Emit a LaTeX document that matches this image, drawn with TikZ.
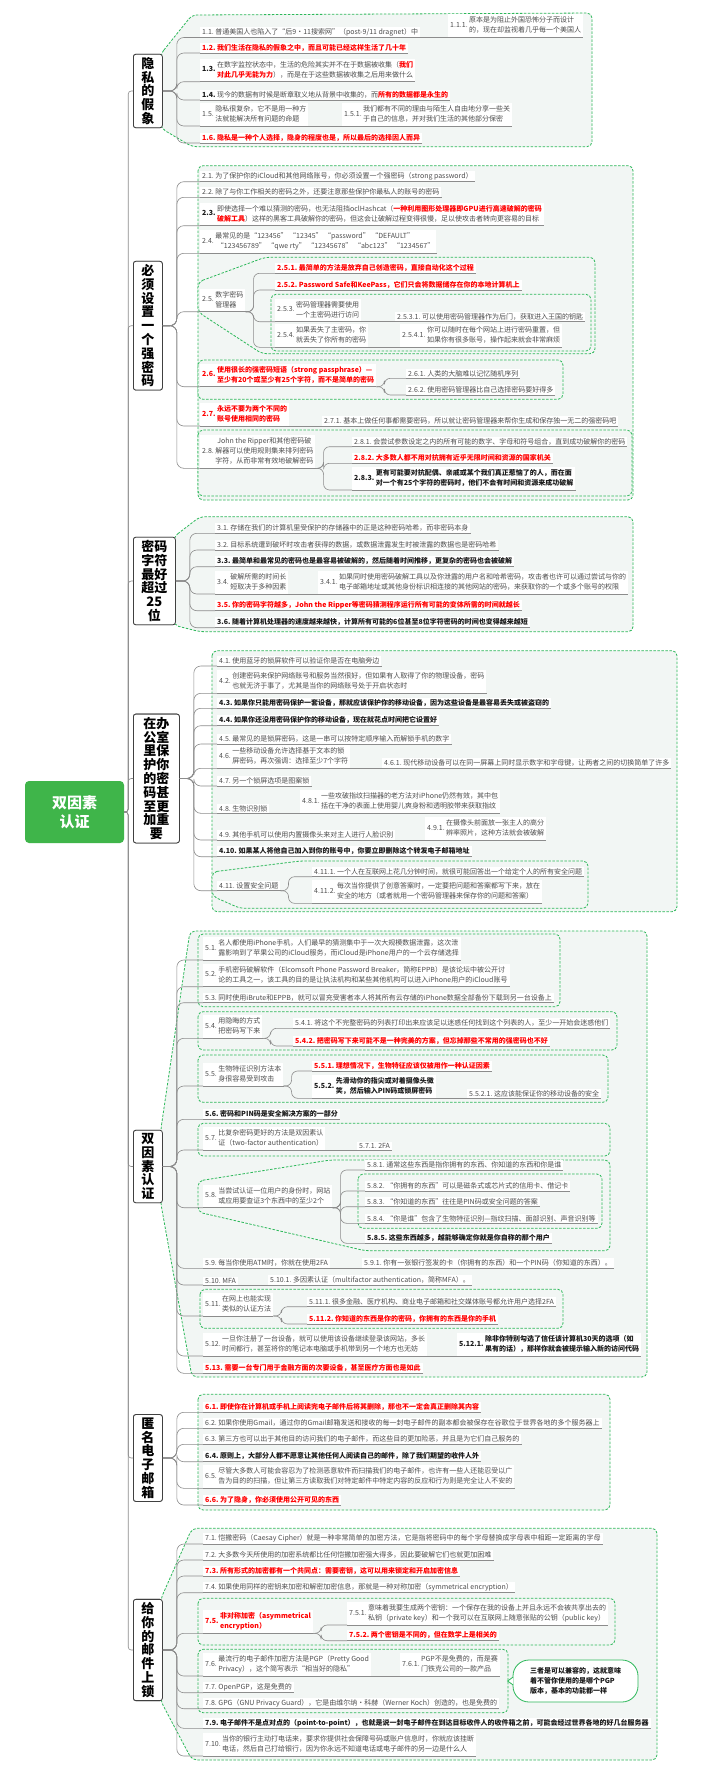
\documentclass[tikz,border=0pt]{standalone}
\usepackage{fontspec}
\setmainfont{Noto Sans CJK SC}
\usetikzlibrary{calc}
\definecolor{tx}{HTML}{4D4D4D}
\definecolor{rd}{HTML}{FF0000}
\definecolor{bk}{HTML}{1A1A1A}
\definecolor{ulc}{HTML}{8C8C8C}
\definecolor{cnc}{HTML}{8C8C8C}
\definecolor{bdc}{HTML}{2DB85A}
\definecolor{bgc}{HTML}{F2F6F4}
\definecolor{rootc}{HTML}{3FB54A}
\newcommand\itfont{\fontsize{7}{10}\selectfont}
\newcommand\R[1]{{\bfseries\color{rd}#1}}
\newcommand\B[1]{{\bfseries\color{bk}#1}}
\newcommand\ml[2]{\begin{tabular}{@{}l@{\hspace{1.5pt}}l@{}}#1&\begin{tabular}{@{}l@{}}#2\end{tabular}\end{tabular}}
\tikzset{
 it/.style={anchor=south west, inner xsep=2pt, inner ysep=1.5pt, fill=white, text=tx, font=\itfont},
 rit/.style={it, text=rd, font=\itfont\bfseries},
 bit/.style={it, text=bk, font=\itfont\bfseries},
 ul/.style={draw=ulc, line width=0.6pt},
 cn/.style={draw=cnc, line width=0.6pt, rounded corners=7pt},
 bd/.style={draw=bdc, line width=0.8pt, dash pattern=on 2.5pt off 1.5pt, fill=bgc, rounded corners=5pt},
 secbox/.style={draw=black!75, fill=white, rounded corners=2.5pt, line width=0.8pt, font=\fontsize{13}{13.8}\selectfont\bfseries, align=center, inner xsep=3pt, inner ysep=3pt, anchor=west, minimum width=29pt},
 rootbox/.style={fill=rootc, text=white, rounded corners=4pt, font=\fontsize{15}{19}\selectfont\bfseries, minimum width=99pt, minimum height=62pt, align=center},
 callout/.style={draw=bdc, line width=0.8pt, fill=white, rounded corners=16pt, font=\itfont\bfseries, text=bk, align=left, minimum width=125pt, minimum height=42pt}
}
\begin{document}
\begin{tikzpicture}[x=1pt,y=-1pt]
\useasboundingbox (0,0) rectangle (720,1773);
\fill[white] (0,0) rectangle (720,1773);
% ---------- root and sections (placed first so boundaries can use them) ----------
\path
 node[secbox] (s1) at (133,91) {隐\\私\\的\\假\\象}
 node[secbox] (s2) at (133,325.7) {必\\须\\设\\置\\一\\个\\强\\密\\码}
 node[secbox, minimum width=42pt] (s3) at (133,581) {密码\\字符\\最好\\超过\\25\\位}
 node[secbox, minimum width=46pt] (s4) at (133,778.5) {在办\\公室\\里保\\护你\\的密\\码甚\\至更\\加重\\要}
 node[secbox] (s5) at (133,1166.5) {双\\因\\素\\认\\证}
 node[secbox] (s6) at (133,1458) {匿\\名\\电\\子\\邮\\箱}
 node[secbox] (s7) at (133,1650) {给\\你\\的\\邮\\件\\上\\锁};
% ---------- boundaries ----------
\draw[bd] ($(s1.north east)+(-2,0)$) -- (192,15) -- (592,13) -- (592,146.7) -- (192,146.7) -- ($(s1.south east)+(-2,0)$) -- cycle;
\draw[bd] (198,165.7) rectangle (633,500);
\draw[bd] (198,282) -- (265,257.3) -- (595,257.3) -- (595,353.7) -- (262,353.7) -- (198,312) -- cycle;
\draw[bd] (271,294.3) rectangle (591,351);
\draw[bd] (198,360) rectangle (563,399.3);
\draw[bd] (198,430) rectangle (632,496);
\draw[bd] ($(s3.north east)+(-2,0)$) -- (200,516.7) -- (633,516.7) -- (633,631.7) -- (200,631.7) -- ($(s3.south east)+(-2,0)$) -- cycle;
\draw[bd] (212,650.7) rectangle (677,911.7);
\draw[bd] (212,872) -- (300,861) -- (588,861) -- (588,908.3) -- (240,908.3) -- (212,896) -- cycle;
\draw[bd] ($(s5.north east)+(-2,0)$) -- (190,931) -- (647,931) -- (647,1377) -- (192,1377) -- ($(s5.south east)+(-2,0)$) -- cycle;
\draw[bd] (198,934) rectangle (560,1006.7);
\draw[bd] (198,1011.7) rectangle (617,1050);
\draw[bd] (198,1055) rectangle (608,1102.3);
\draw[bd] (198,1123.3) rectangle (610,1156);
\draw[bd] (198,1181) -- (330,1160) -- (610,1160) -- (610,1250.7) -- (365,1250.7) -- (198,1212) -- cycle;
\draw[bd] (358,1174) rectangle (602,1228.3);
\draw[bd] (200,1289.3) rectangle (563,1328.3);
\draw[bd] (198,1394.3) rectangle (610,1510);
\draw[bd] ($(s7.north east)+(-2,0)$) -- (192,1528.3) -- (657,1528.3) -- (657,1760) -- (192,1760) -- ($(s7.south east)+(-2,0)$) -- cycle;
\draw[bd] (198,1598.3) rectangle (615,1645);
\draw[bd] (198,1649.3) rectangle (508,1712.7);
% redraw section boxes on top of boundaries
\path
 node[secbox] at (s1.west) {隐\\私\\的\\假\\象}
 node[secbox] at (s2.west) {必\\须\\设\\置\\一\\个\\强\\密\\码}
 node[secbox, minimum width=42pt] at (s3.west) {密码\\字符\\最好\\超过\\25\\位}
 node[secbox, minimum width=46pt] at (s4.west) {在办\\公室\\里保\\护你\\的密\\码甚\\至更\\加重\\要}
 node[secbox] at (s5.west) {双\\因\\素\\认\\证}
 node[secbox] at (s6.west) {匿\\名\\电\\子\\邮\\箱}
 node[secbox] at (s7.west) {给\\你\\的\\邮\\件\\上\\锁};
\node[rootbox] (root) at (74.5,812) {双因素\\认证};
% ---------- section 1 ----------
\node[it] (a11) at (200,37.5) {1.1.\ 普通美国人也陷入了“后9·11搜索网”（post-9/11 dragnet）中};
\node[it] (a111) at (448,37.5) {\ml{1.1.1.}{原本是为阻止外国恐怖分子而设计\\的，现在却监视着几乎每一个美国人}};
\node[rit] (a12) at (200,53) {1.2.\ 我们生活在隐私的假象之中，而且可能已经这样生活了几十年};
\node[it] (a13) at (200,81.7) {\ml{\B{1.3.}}{在数字监控状态中，生活的危险其实并不在于数据被收集（\R{我们}\\\R{对此几乎无能为力}），而是在于这些数据被收集之后用来做什么}};
\node[it] (a14) at (200,100) {\B{1.4.}\ 现今的数据有时候是断章取义地从背景中收集的，而\R{所有的数据都是永生的}};
\node[it] (a15) at (200,126) {\ml{1.5.}{隐私很复杂，它不是用一种方\\法就能解决所有问题的命题}};
\node[it] (a151) at (342,126) {\ml{1.5.1.}{我们都有不同的理由与陌生人自由地分享一些关\\于自己的信息，并对我们生活的其他部分保密}};
\node[rit] (a16) at (200,143) {1.6.\ 隐私是一种个人选择，隐身的程度也是，所以最后的选择因人而异};
% ---------- section 2 ----------
\node[it] (b21) at (200,181.7) {2.1.\ 为了保护你的iCloud和其他网络账号，你必须设置一个强密码（strong password）};
\node[it] (b22) at (200,197.3) {2.2.\ 除了与你工作相关的密码之外，还要注意那些保护你最私人的账号的密码};
\node[it] (b23) at (200,225.7) {\ml{\B{2.3.}}{即使选择一个难以猜测的密码，也无法阻挡oclHashcat（\R{一种利用图形处理器即GPU进行高速破解的密码}\\\R{破解工具}）这样的黑客工具破解你的密码，但这会让破解过程变得很慢，足以使攻击者转向更容易的目标}};
\node[it] (b24) at (200,253.3) {\ml{2.4.}{最常见的是“123456”\ “12345”\ “password”\ “DEFAULT”\\\ “123456789”\ “qwe rty”\ “12345678”\ “abc123”\ “1234567”}};
\node[it] (b25) at (200,311.7) {\ml{2.5.}{数字密码\\管理器}};
\node[rit] (b251) at (275,273.3) {2.5.1.\ 最简单的方法是放弃自己创造密码，直接自动化这个过程};
\node[rit] (b252) at (275,290) {2.5.2.\ Password Safe和KeePass，它们只会将数据储存在你的本地计算机上};
\node[it] (b253) at (275,321.7) {\ml{2.5.3.}{密码管理器需要使用\\一个主密码进行访问}};
\node[it] (b2531) at (395,321.7) {2.5.3.1.\ 可以使用密码管理器作为后门，获取进入王国的钥匙};
\node[it] (b254) at (275,347.3) {\ml{2.5.4.}{如果丢失了主密码，你\\就丢失了你所有的密码}};
\node[it] (b2541) at (400,347.3) {\ml{2.5.4.1.}{你可以随时在每个网站上进行密码重置，但\\如果你有很多账号，操作起来就会非常麻烦}};
\node[rit] (b26) at (200,386.7) {\ml{2.6.}{使用很长的强密码短语（strong passphrase）—\\至少有20个或至少有25个字符，而不是简单的密码}};
\node[it] (b261) at (406,378.3) {2.6.1.\ 人类的大脑难以记忆随机序列};
\node[it] (b262) at (406,395) {2.6.2.\ 使用密码管理器比自己选择密码要好得多};
\node[rit] (b27) at (200,426) {\ml{2.7.}{永远不要为两个不同的\\账号使用相同的密码}};
\node[it] (b271) at (322,426) {2.7.1.\ 基本上做任何事都需要密码，所以就让密码管理器来帮你生成和保存独一无二的强密码吧};
\node[it] (b28) at (200,468.3) {\begin{tabular}{@{}l@{\hspace{1.5pt}}c@{}}&John the Ripper和其他密码破\\2.8.&解器可以使用规则集来排列密码\\&字符，从而非常有效地破解密码\end{tabular}};
\node[it] (b281) at (352,446.7) {2.8.1.\ 会尝试参数设定之内的所有可能的数字、字母和符号组合，直到成功破解你的密码};
\node[rit] (b282) at (352,463.3) {2.8.2.\ 大多数人都不用对抗拥有近乎无限时间和资源的国家机关};
\node[bit] (b283) at (352,490) {\ml{2.8.3.}{更有可能要对抗配偶、亲戚或某个我们真正惹恼了的人，而在面\\对一个有25个字符的密码时，他们不会有时间和资源来成功破解}};
% ---------- section 3 ----------
\node[it] (c31) at (215,533.3) {3.1.\ 存储在我们的计算机里受保护的存储器中的正是这种密码哈希，而非密码本身};
\node[it] (c32) at (215,550) {3.2.\ 目标系统遭到破坏时攻击者获得的数据，或数据泄露发生时被泄露的数据也是密码哈希};
\node[bit] (c33) at (215,566.7) {3.3.\ 最简单和最常见的密码也是最容易被破解的，然后随着时间推移，更复杂的密码也会被破解};
\node[it] (c34) at (215,594) {\ml{3.4.}{破解所需的时间长\\短取决于多种因素}};
\node[it] (c341) at (318,594) {\ml{3.4.1.}{如果同时使用密码破解工具以及你泄露的用户名和哈希密码，攻击者也许可以通过尝试与你的\\电子邮箱地址或其他身份标识相连接的其他网站的密码，来获取你的一个或多个账号的权限}};
\node[rit] (c35) at (215,610.7) {3.5.\ 你的密码字符越多，John the Ripper等密码猜测程序运行所有可能的变体所需的时间就越长};
\node[bit] (c36) at (215,627.7) {3.6.\ 随着计算机处理器的速度越来越快，计算所有可能的6位甚至8位字符密码的时间也变得越来越短};
% ---------- section 4 ----------
\node[it] (d41) at (217,666) {4.1.\ 使用蓝牙的锁屏软件可以验证你是否在电脑旁边};
\node[it] (d42) at (217,693.3) {\ml{4.2.}{创建密码来保护网络账号和服务当然很好，但如果有人取得了你的物理设备，密码\\也就无济于事了，尤其是当你的网络账号处于开启状态时}};
\node[bit] (d43) at (217,708.3) {4.3.\ 如果你只能用密码保护一套设备，那就应该保护你的移动设备，因为这些设备是最容易丢失或被盗窃的};
\node[bit] (d44) at (217,725.7) {4.4.\ 如果你还没用密码保护你的移动设备，现在就花点时间把它设置好};
\node[it] (d45) at (217,744) {4.5.\ 最常见的是锁屏密码，这是一串可以按特定顺序输入而解锁手机的数字};
\node[it] (d46) at (217,768.3) {\ml{4.6.}{一些移动设备允许选择基于文本的锁\\屏密码，再次强调：选择至少7个字符}};
\node[it] (d461) at (382,768.3) {4.6.1.\ 现代移动设备可以在同一屏幕上同时显示数字和字母键，让两者之间的切换简单了许多};
\node[it] (d47) at (217,786) {4.7.\ 另一个锁屏选项是图案锁};
\node[it] (d48) at (217,813.3) {4.8.\ 生物识别锁};
\node[it] (d481) at (300,813.3) {\ml{4.8.1.}{一些攻破指纹扫描器的老方法对iPhone仍然有效，其中包\\括在干净的表面上使用婴儿爽身粉和透明胶带来获取指纹}};
\node[it] (d49) at (217,840) {4.9.\ 其他手机可以使用内置摄像头来对主人进行人脸识别};
\node[it] (d491) at (425,840) {\ml{4.9.1.}{在摄像头前面放一张主人的高分\\辨率照片，这种方法就会被破解}};
\node[bit] (d410) at (217,856.7) {4.10.\ 如果某人将他自己加入到你的账号中，你要立即删除这个转发电子邮箱地址};
\node[it] (d411) at (217,890.7) {4.11.\ 设置安全问题};
\node[it] (d4111) at (312,876.7) {4.11.1.\ 一个人在互联网上花几分钟时间，就很可能回答出一个给定个人的所有安全问题};
\node[it] (d4112) at (312,903.3) {\ml{4.11.2.}{每次当你提供了创意答案时，一定要把问题和答案都写下来，放在\\安全的地方（或者就用一个密码管理器来保存你的问题和答案）}};
% ---------- section 5 ----------
\node[it] (e51) at (203,960) {\ml{5.1.}{名人都使用iPhone手机，人们最早的猜测集中于一次大规模数据泄露，这次泄\\露影响到了苹果公司的iCloud服务，而iCloud是iPhone用户的一个云存储选择}};
\node[it] (e52) at (203,986.7) {\ml{5.2.}{手机密码破解软件（Elcomsoft Phone Password Breaker，简称EPPB）是该论坛中被公开讨\\论的工具之一，该工具的目的是让执法机构和某些其他机构可以进入iPhone用户的iCloud账号}};
\node[it] (e53) at (203,1002.7) {5.3.\ 同时使用iBrute和EPPB，就可以冒充受害者本人将其所有云存储的iPhone数据全部备份下载到另一台设备上};
\node[it] (e54) at (203,1038.3) {\ml{5.4.}{用隐晦的方式\\把密码写下来}};
\node[it] (e541) at (293,1028.3) {5.4.1.\ 将这个不完整密码的列表打印出来应该足以迷惑任何找到这个列表的人，至少一开始会迷惑他们};
\node[rit] (e542) at (293,1046) {5.4.2.\ 把密码写下来可能不是一种完美的方案，但忘掉那些不常用的强密码也不好};
\node[it] (e55) at (203,1086) {\ml{5.5.}{生物特征识别方法本\\身很容易受到攻击}};
\node[rit] (e551) at (312,1071) {5.5.1.\ 理想情况下，生物特征应该仅被用作一种认证因素};
\node[bit] (e552) at (312,1098.3) {\ml{5.5.2.}{先滑动你的指尖或对着摄像头微\\笑，然后输入PIN码或锁屏密码}};
\node[it] (e5521) at (467,1098.3) {5.5.2.1.\ 这应该能保证你的移动设备的安全};
\node[bit] (e56) at (203,1119.3) {5.6.\ 密码和PIN码是安全解决方案的一部分};
\node[it] (e57) at (203,1150) {\ml{5.7.}{比复杂密码更好的方法是双因素认\\证（two-factor authentication）}};
\node[it] (e571) at (357,1150) {5.7.1.\ 2FA};
\node[it] (e58) at (203,1207.7) {\ml{5.8.}{当尝试认证一位用户的身份时，网站\\或应用要查证3个东西中的至少2个}};
\node[it] (e581) at (365,1170) {5.8.1.\ 通常这些东西是指你拥有的东西、你知道的东西和你是谁};
\node[it] (e582) at (365,1191) {5.8.2.\ “你拥有的东西”可以是磁条式或芯片式的信用卡、借记卡};
\node[it] (e583) at (365,1206.7) {5.8.3.\ “你知道的东西”往往是PIN码或安全问题的答案};
\node[it] (e584) at (365,1223.3) {5.8.4.\ “你是谁”包含了生物特征识别—指纹扫描、面部识别、声音识别等};
\node[bit] (e585) at (365,1243.3) {5.8.5.\ 这些东西越多，越能够确定你就是你自称的那个用户};
\node[it] (e59) at (203,1268.3) {5.9.\ 每当你使用ATM时，你就在使用2FA};
\node[it] (e591) at (362,1268.3) {5.9.1.\ 你有一张银行签发的卡（你拥有的东西）和一个PIN码（你知道的东西）。};
\node[it] (e510) at (203,1285) {5.10.\ MFA};
\node[it] (e5101) at (268,1285) {5.10.1.\ 多因素认证（multifactor authentication，简称MFA）。};
\node[it] (e511) at (203,1316) {\ml{5.11.}{在网上也能实现\\类似的认证方法}};
\node[it] (e5111) at (307,1306.7) {5.11.1.\ 很多金融、医疗机构、商业电子邮箱和社交媒体账号都允许用户选择2FA};
\node[rit] (e5112) at (307,1324) {5.11.2.\ 你知道的东西是你的密码，你拥有的东西是你的手机};
\node[it] (e512) at (203,1356) {\ml{5.12.}{一旦你注册了一台设备，就可以使用该设备继续登录该网站，多长\\时间都行，甚至将你的笔记本电脑或手机带到另一个地方也无妨}};
\node[bit] (e5121) at (457,1356) {\ml{5.12.1.}{除非你特别勾选了信任该计算机30天的选项（如\\果有的话），那样你就会被提示输入新的访问代码}};
\node[rit] (e513) at (203,1373.3) {5.13.\ 需要一台专门用于金融方面的次要设备，甚至医疗方面也是如此};
% ---------- section 6 ----------
\node[rit] (f61) at (203,1412.3) {6.1.\ 即使你在计算机或手机上阅读完电子邮件后将其删除，那也不一定会真正删除其内容};
\node[it] (f62) at (203,1428.3) {6.2.\ 如果你使用Gmail，通过你的Gmail邮箱发送和接收的每一封电子邮件的副本都会被保存在谷歌位于世界各地的多个服务器上};
\node[it] (f63) at (203,1444.3) {6.3.\ 第三方也可以出于其他目的访问我们的电子邮件，而这些目的更加险恶，并且是为它们自己服务的};
\node[bit] (f64) at (203,1461.7) {6.4.\ 原则上，大部分人都不愿意让其他任何人阅读自己的邮件，除了我们期望的收件人外};
\node[it] (f65) at (203,1488.3) {\ml{6.5.}{尽管大多数人可能会容忍为了检测恶意软件而扫描我们的电子邮件，也许有一些人还能忍受以广\\告为目的的扫描，但让第三方读取我们对特定邮件中特定内容的反应和行为则是完全让人不安的}};
\node[rit] (f66) at (203,1505) {6.6.\ 为了隐身，你必须使用公开可见的东西};
% ---------- section 7 ----------
\node[it] (g71) at (203,1544) {7.1.\ 恺撒密码（Caesay Cipher）就是一种非常简单的加密方法，它是指将密码中的每个字母替换成字母表中相距一定距离的字母};
\node[it] (g72) at (203,1560) {7.2.\ 大多数今天所使用的加密系统都比任何恺撒加密强大得多，因此要破解它们也就更加困难};
\node[rit] (g73) at (203,1576) {7.3.\ 所有形式的加密都有一个共同点：需要密钥，这可以用来锁定和开启加密信息};
\node[it] (g74) at (203,1592.7) {7.4.\ 如果使用同样的密钥来加密和解密加密信息，那就是一种对称加密（symmetrical encryption）};
\node[rit] (g75) at (203,1633.3) {\ml{7.5.}{非对称加密（asymmetrical\\encryption）}};
\node[it] (g751) at (347,1625) {\ml{7.5.1.}{意味着我要生成两个密钥：一个保存在我的设备上并且永远不会被共享出去的\\私钥（private key）和一个我可以在互联网上随意张贴的公钥（public key）}};
\node[rit] (g752) at (347,1640.7) {7.5.2.\ 两个密钥是不同的，但在数学上是相关的};
\node[it] (g76) at (203,1676) {\ml{7.6.}{最流行的电子邮件加密方法是PGP（Pretty Good\\Privacy），这个简写表示“相当好的隐私”}};
\node[it] (g761) at (400,1676) {\ml{7.6.1.}{PGP不是免费的，而是赛\\门铁克公司的一款产品}};
\node[it] (g77) at (203,1692.7) {7.7.\ OpenPGP，这是免费的};
\node[it] (g78) at (203,1708.7) {7.8.\ GPG（GNU Privacy Guard），它是由维尔纳·科赫（Werner Koch）创造的，也是免费的};
\node[callout] (g7s) at (575.5,1681) {三者是可以兼容的，这就意味\\着不管你使用的是哪个PGP\\版本，基本的功能都一样};
\draw[draw=bdc, line width=0.8pt, fill=white] ($(g7s.west)+(0.6,-4)$) -- ($(g7s.west)+(-5,0)$) -- ($(g7s.west)+(0.6,4)$);
\node[bit] (g79) at (203,1728.3) {7.9.\ 电子邮件不是点对点的（point-to-point），也就是说一封电子邮件在到达目标收件人的收件箱之前，可能会经过世界各地的好几台服务器};
\node[it] (g710) at (203,1756) {\ml{7.10.}{当你的银行主动打电话来，要求你提供社会保障号码或账户信息时，你就应该挂断\\电话，然后自己打给银行，因为你永远不知道电话或电子邮件的另一边是什么人}};
% ---------- connectors ----------
\foreach \s in {s1,s2,s3,s4,s5,s6,s7}
  \draw[cn, rounded corners=3pt] (root.east) -- ++(4,0) |- (\s.west);
\foreach \c in {a11,a12,a13,a14,a15,a16}
  \draw[cn] (s1.east) -- ++(14,0) |- (\c.south west);
\foreach \c in {b21,b22,b23,b24,b25,b26,b27,b28}
  \draw[cn] (s2.east) -- ++(14,0) |- (\c.south west);
\foreach \c in {c31,c32,c33,c34,c35,c36}
  \draw[cn] (s3.east) -- ++(14,0) |- (\c.south west);
\foreach \c in {d41,d42,d43,d44,d45,d46,d47,d48,d49,d410,d411}
  \draw[cn] (s4.east) -- ++(14,0) |- (\c.south west);
\foreach \c in {e51,e52,e53,e54,e55,e56,e57,e58,e59,e510,e511,e512,e513}
  \draw[cn] (s5.east) -- ++(14,0) |- (\c.south west);
\foreach \c in {f61,f62,f63,f64,f65,f66}
  \draw[cn] (s6.east) -- ++(14,0) |- (\c.south west);
\foreach \c in {g71,g72,g73,g74,g75,g76,g77,g78,g79,g710}
  \draw[cn] (s7.east) -- ++(14,0) |- (\c.south west);
\foreach \p/\c in {b25/b251,b25/b252,b25/b253,b25/b254,b26/b261,b26/b262,b28/b281,b28/b282,b28/b283,d411/d4111,d411/d4112,e54/e541,e54/e542,e55/e551,e55/e552,e58/e581,e58/e582,e58/e583,e58/e584,e58/e585,e511/e5111,e511/e5112,g75/g751,g75/g752}
  \draw[cn, rounded corners=6pt] (\p.south east) -- ++(8,0) |- (\c.south west);
\foreach \p/\c in {a11/a111,a15/a151,b253/b2531,b254/b2541,b27/b271,c34/c341,d46/d461,d48/d481,d49/d491,e552/e5521,e57/e571,e59/e591,e510/e5101,e512/e5121,g76/g761}
  \draw[cn] (\p.south east) -- (\c.south west);
% ---------- underlines ----------
\foreach \n in {a11,a111,a12,a13,a14,a15,a151,a16,b21,b22,b23,b24,b25,b251,b252,b253,b2531,b254,b2541,b26,b261,b262,b27,b271,b28,b281,b282,b283,c31,c32,c33,c34,c341,c35,c36,d41,d42,d43,d44,d45,d46,d461,d47,d48,d481,d49,d491,d410,d411,d4111,d4112,e51,e52,e53,e54,e541,e542,e55,e551,e552,e5521,e56,e57,e571,e58,e581,e582,e583,e584,e585,e59,e591,e510,e5101,e511,e5111,e5112,e512,e5121,e513,f61,f62,f63,f64,f65,f66,g71,g72,g73,g74,g75,g751,g752,g76,g761,g77,g78,g79,g710}
  \draw[ul] (\n.south west) -- (\n.south east);
\end{tikzpicture}
\end{document}
